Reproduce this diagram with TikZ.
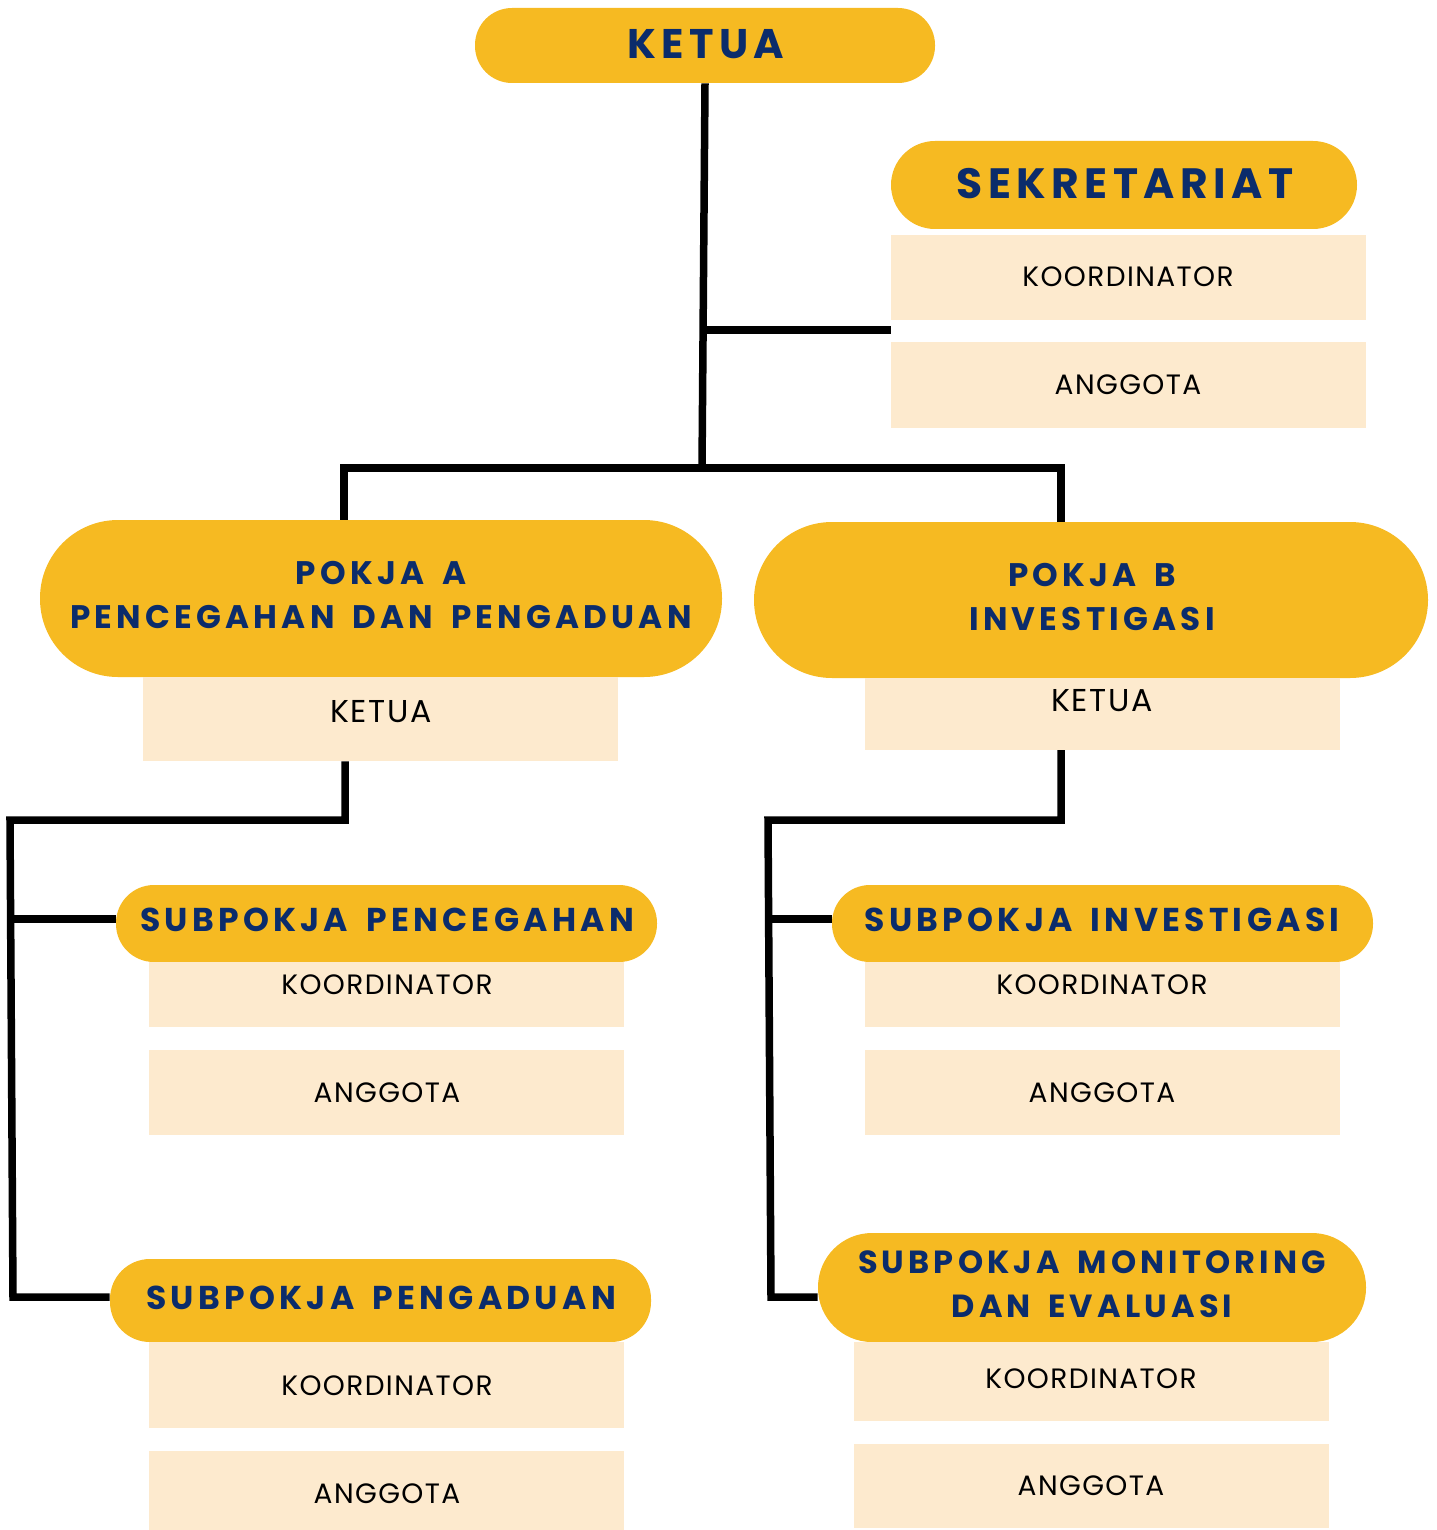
\documentclass[tikz,border=0pt]{standalone}
\usepackage{fontspec}
\setmainfont{Poppins}
\newfontfamily\hd{Poppins}[LetterSpace=13, WordSpace=1.6]
\newfontfamily\bd{Poppins}[LetterSpace=5]
\usetikzlibrary{backgrounds}
\definecolor{gold}{HTML}{F6BA22}
\definecolor{navy}{HTML}{0B2C6B}
\definecolor{cream}{HTML}{FDEACE}
\tikzset{
  pill/.style={fill=gold, draw=none, inner sep=0pt},
  crm/.style={fill=cream, draw=none, inner sep=0pt},
  htxt/.style={text=navy, font=\hd\bfseries, align=center, inner sep=0pt},
  btxt/.style={text=black, font=\bd\fontsize{14}{16}\selectfont, inner sep=0pt},
  conn/.style={line width=3.75pt, draw=black, line join=miter, line cap=butt},
}
\begin{document}
\begin{tikzpicture}[x=0.5pt,y=-0.5pt]
\useasboundingbox (0,0) rectangle (1436,1530);
% top
\node[pill, rounded corners=18.5pt, minimum width=230pt, minimum height=37.5pt] (ketua) at (705,45.5) {};
\node[htxt, font=\hd\bfseries\fontsize{20.7}{24}\selectfont] (tketua) at (706,44) {KETUA};
% sekretariat
\node[pill, rounded corners=22pt, minimum width=233pt, minimum height=44pt] (sek) at (1124,185) {};
\node[htxt, font=\hd\bfseries\fontsize{21.2}{24}\selectfont] (tsek) at (1125,184) {SEKRETARIAT};
\node[crm, minimum width=237.5pt, minimum height=42.5pt] (sekk) at (1128.5,277.5) {};
\node[btxt] (tsekk) at (1128,277) {KOORDINATOR};
\node[crm, minimum width=237.5pt, minimum height=43pt] (seka) at (1128.5,385) {};
\node[btxt] (tseka) at (1128,385) {ANGGOTA};
% pokja A
\node[pill, rounded corners=39pt, minimum width=341pt, minimum height=78.5pt] (pa) at (381,598.5) {};
\node[htxt, font=\hd\bfseries\fontsize{16.3}{22}\selectfont] (tpa) at (381,595) {POKJA A\\PENCEGAHAN DAN PENGADUAN};
\node[crm, minimum width=237.5pt, minimum height=42pt] (pak) at (380.5,719) {};
\node[btxt, font=\bd\fontsize{15.8}{18}\selectfont] (tpak) at (381,712) {KETUA};
% pokja B
\node[pill, rounded corners=39pt, minimum width=337pt, minimum height=78pt] (pb) at (1091,600) {};
\node[htxt, font=\hd\bfseries\fontsize{16.3}{22}\selectfont] (tpb) at (1092,597) {POKJA B\\INVESTIGASI};
\node[crm, minimum width=237.5pt, minimum height=36pt] (pbk) at (1102.5,713.5) {};
\node[btxt, font=\bd\fontsize{15.8}{18}\selectfont] (tpbk) at (1102,701) {KETUA};
% subpokja pencegahan
\node[pill, rounded corners=19pt, minimum width=270.5pt, minimum height=38.5pt] (sp1) at (386.5,923.5) {};
\node[htxt, font=\hd\bfseries\fontsize{16.5}{20}\selectfont] (tsp1) at (387,920) {SUBPOKJA PENCEGAHAN};
\node[crm, minimum width=237.5pt, minimum height=32.5pt] (sp1k) at (386.5,994.5) {};
\node[btxt] (tsp1k) at (387,985) {KOORDINATOR};
\node[crm, minimum width=237.5pt, minimum height=42.5pt] (sp1a) at (386.5,1092.5) {};
\node[btxt] (tsp1a) at (387,1093) {ANGGOTA};
% subpokja pengaduan
\node[pill, rounded corners=20pt, minimum width=270.5pt, minimum height=41.5pt] (sp2) at (380.5,1300.5) {};
\node[htxt, font=\hd\bfseries\fontsize{16.5}{20}\selectfont] (tsp2) at (381,1298) {SUBPOKJA PENGADUAN};
\node[crm, minimum width=237.5pt, minimum height=43pt] (sp2k) at (386.5,1385) {};
\node[btxt] (tsp2k) at (387,1386) {KOORDINATOR};
\node[crm, minimum width=237.5pt, minimum height=39.5pt] (sp2a) at (386.5,1490.5) {};
\node[btxt] (tsp2a) at (387,1494) {ANGGOTA};
% subpokja investigasi
\node[pill, rounded corners=19pt, minimum width=270.5pt, minimum height=38.5pt] (sp3) at (1102.5,923.5) {};
\node[htxt, font=\hd\bfseries\fontsize{16.5}{20}\selectfont] (tsp3) at (1102,920) {SUBPOKJA INVESTIGASI};
\node[crm, minimum width=237.5pt, minimum height=32.5pt] (sp3k) at (1102.5,994.5) {};
\node[btxt] (tsp3k) at (1102,985) {KOORDINATOR};
\node[crm, minimum width=237.5pt, minimum height=42.5pt] (sp3a) at (1102.5,1092.5) {};
\node[btxt] (tsp3a) at (1102,1093) {ANGGOTA};
% subpokja monitoring
\node[pill, rounded corners=27pt, minimum width=274pt, minimum height=54.5pt] (sp4) at (1092,1287.5) {};
\node[htxt, font=\hd\bfseries\fontsize{16}{22}\selectfont] (tsp4) at (1092,1284) {SUBPOKJA MONITORING\\DAN EVALUASI};
\node[crm, minimum width=237.5pt, minimum height=39.5pt] (sp4k) at (1091.5,1381.5) {};
\node[btxt] (tsp4k) at (1091,1379) {KOORDINATOR};
\node[crm, minimum width=237.5pt, minimum height=42pt] (sp4a) at (1091.5,1486) {};
\node[btxt] (tsp4a) at (1091,1486) {ANGGOTA};
% junction coordinates
\coordinate (j0) at (702,468);
\coordinate (jl) at (344,468);
\coordinate (jr) at (1061,468);
\coordinate (js) at (704,330);
\coordinate (la) at (345,820);
\coordinate (lb) at (10,820);
\coordinate (lc) at (13,1297);
\coordinate (ra) at (1061,820);
\coordinate (rb) at (768,820);
\coordinate (rc) at (771,1297);
\begin{pgfonlayer}{background}
\draw[conn] (ketua.south) -- (j0);
\draw[conn] (js) -- (sekk.south west |- js);
\draw[conn] (jl |- pa.north) -- (jl) -- (jr) -- (jr |- pb.north);
\draw[conn] (pak.south -| la) -- (la) -- (lb) -- (lc) -- (sp2.west |- lc);
\draw[conn] (11,919) -- (sp1.west |- 0,919);
\draw[conn] (pbk.south -| ra) -- (ra) -- (rb) -- (rc) -- (sp4.west |- rc);
\draw[conn] (769,919) -- (sp3.west |- 0,919);
\end{pgfonlayer}
\end{tikzpicture}
\end{document}
